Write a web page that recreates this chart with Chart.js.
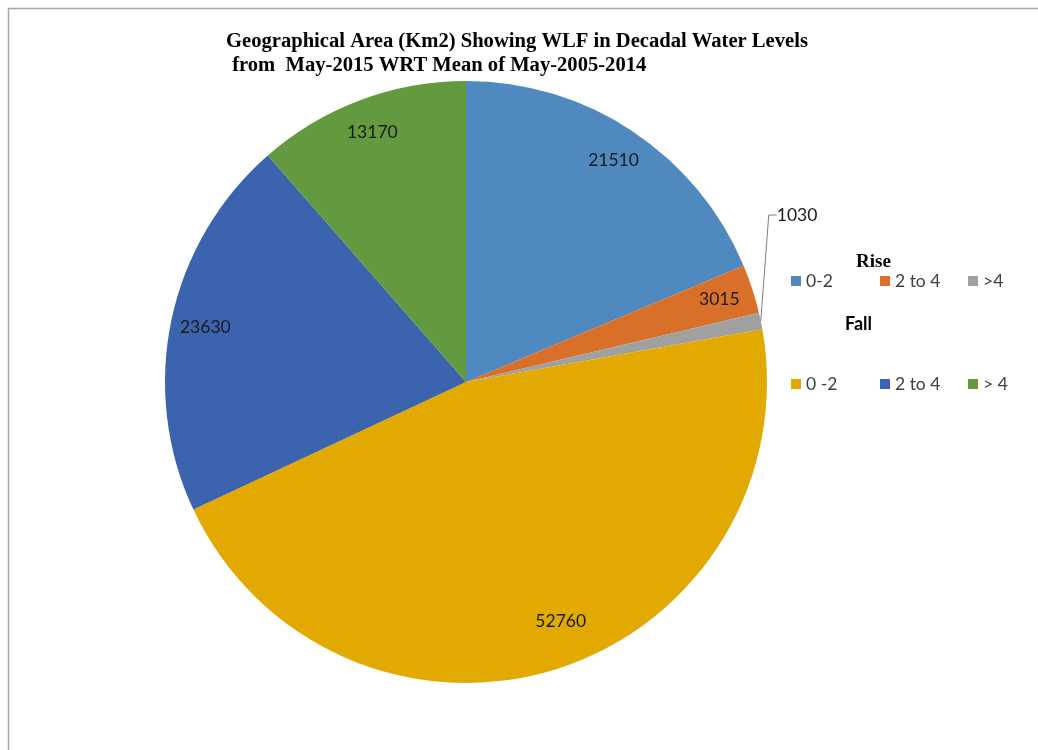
<!DOCTYPE html>
<html>
<head>
<meta charset="utf-8">
<script src="https://cdn.jsdelivr.net/npm/chart.js@4"></script>
<style>
    html, body { margin: 0; padding: 0; background: #fff; }
    #wrap { position: relative; width: 1038px; height: 750px; }
</style>
</head>
<body>
<div id="wrap"><canvas id="wlf-chart" width="1038" height="750"></canvas></div>
<script>
// Chart data
const titleLines = ['Geographical Area (Km2) Showing WLF in Decadal Water Levels', ' from  May-2015 WRT Mean of May-2005-2014'];
const categories = ['0-2', '2 to 4', '>4', '0 -2', '2 to 4', '> 4'];
const groups = ['Rise', 'Rise', 'Rise', 'Fall', 'Fall', 'Fall'];
const areas = [21510, 3015, 1030, 52760, 23630, 13170];
const colors = ['#4f89c0', '#d8702a', '#a0a0a0', '#e2aa00', '#3c64ae', '#63993f'];

document.addEventListener('DOMContentLoaded', function() {
    // Frame, title, labels and legend drawn on the canvas
    const decorations = {
        id: 'decorations',
        beforeDraw(chart) {
            const ctx = chart.ctx;
            ctx.save();
            ctx.fillStyle = '#fff';
            ctx.fillRect(0, 0, chart.width, chart.height);
            ctx.strokeStyle = '#a6a6a6';
            ctx.lineWidth = 1.5;
            ctx.beginPath();
            ctx.moveTo(8.5, chart.height);
            ctx.lineTo(8.5, 8.5);
            ctx.lineTo(chart.width, 8.5);
            ctx.stroke();
            ctx.restore();
        },
        afterDraw(chart) {
            const ctx = chart.ctx;
            const meta = chart.getDatasetMeta(0);
            ctx.save();

            // title
            ctx.fillStyle = '#000';
            ctx.font = 'bold 20.6px "Liberation Serif", "Times New Roman", serif';
            ctx.textAlign = 'left';
            ctx.textBaseline = 'alphabetic';
            ctx.fillText(titleLines[0], 226, 47);
            ctx.fillText(titleLines[1], 227, 71);

            // slice labels
            ctx.font = '17.5px Lato, "Open Sans", sans-serif';
            ctx.fillStyle = '#1a1a1a';
            ctx.textAlign = 'center';
            ctx.textBaseline = 'middle';
            meta.data.forEach(function(arc, i) {
                const p = arc.getProps(['x', 'y', 'startAngle', 'endAngle', 'outerRadius'], true);
                let mid = (p.startAngle + p.endAngle) / 2;
                let r = p.outerRadius * 0.885;
                if (i === 2) {
                    // small slice: leader line
                    const ex = p.x + Math.cos(mid) * p.outerRadius;
                    const ey = p.y + Math.sin(mid) * p.outerRadius;
                    ctx.strokeStyle = '#7f7f7f';
                    ctx.lineWidth = 1;
                    ctx.beginPath();
                    ctx.moveTo(ex, ey);
                    ctx.lineTo(ex + 8, ey - 106);
                    ctx.lineTo(ex + 16, ey - 106);
                    ctx.stroke();
                    ctx.textAlign = 'left';
                    ctx.fillText(String(areas[i]), ex + 16, ey - 106);
                    ctx.textAlign = 'center';
                    return;
                }
                if (i === 3) {
                    mid -= 0.07;
                    r = p.outerRadius * 0.855;
                }
                ctx.fillText(String(areas[i]), p.x + Math.cos(mid) * r, p.y + Math.sin(mid) * r);
            });

            // legend
            ctx.fillStyle = '#000';
            ctx.textAlign = 'left';
            ctx.font = 'bold 19px "Liberation Serif", "Times New Roman", serif';
            ctx.fillText('Rise', 856, 262);
            ctx.font = 'bold 18px Lato, "Open Sans", sans-serif';
            ctx.fillText('Fall', 845, 324);
            const colX = [791, 880, 968];
            const rowY = { Rise: 281, Fall: 384 };
            ctx.font = '17.5px Lato, "Open Sans", sans-serif';
            categories.forEach(function(cat, i) {
                const x = colX[i % 3];
                const y = rowY[groups[i]];
                ctx.fillStyle = colors[i];
                ctx.fillRect(x, y - 5, 10, 10);
                ctx.fillStyle = '#404040';
                ctx.fillText(cat, x + 15, y);
            });
            ctx.restore();
        }
    };

    const ctx = document.getElementById('wlf-chart').getContext('2d');
    new Chart(ctx, {
        type: 'pie',
        data: {
            labels: categories,
            datasets: [{
                data: areas,
                backgroundColor: colors,
                borderWidth: 0
            }]
        },
        options: {
            responsive: false,
            animation: false,
            layout: {
                padding: { left: 165, right: 271, top: 81, bottom: 67 }
            },
            plugins: {
                legend: { display: false },
                title: { display: false },
                tooltip: { enabled: false }
            }
        },
        plugins: [decorations]
    });
});
</script>
</body>
</html>
